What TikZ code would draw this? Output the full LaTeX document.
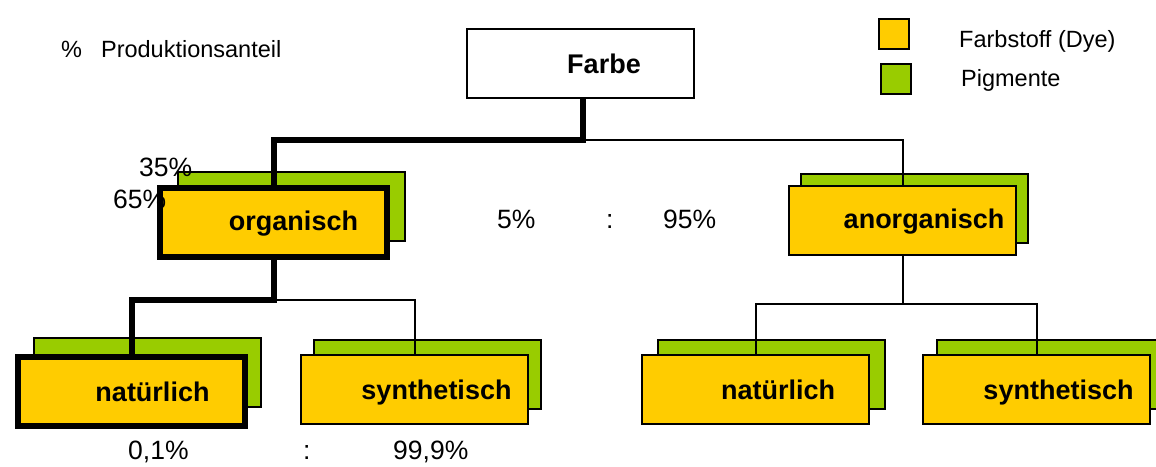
\documentclass[tikz,border=0pt]{standalone}
\usepackage{fontspec}
\setmainfont{Liberation Sans}
\usetikzlibrary{calc}

\definecolor{dyeyellow}{HTML}{FFCC00}
\definecolor{pigmentgreen}{HTML}{99CC00}

\tikzset{
  boxbase/.style={rectangle, anchor=north west, inner sep=0pt,
    minimum width=227pt, minimum height=69pt, draw=black, line width=2pt},
  pigmentbox/.style={boxbase, fill=pigmentgreen, line width=1.6pt},
  dyebox/.style={boxbase, fill=dyeyellow},
  pathbox/.style={dyebox, line width=6pt},
  rootbox/.style={boxbase, fill=white},
  boxlabel/.style={anchor=base, inner sep=0pt,
    font=\bfseries\fontsize{27}{27}\selectfont},
  plaintext/.style={anchor=base west, inner sep=0pt,
    font=\fontsize{23.5}{23.5}\selectfont},
  pct/.style={anchor=base west, inner sep=0pt,
    font=\fontsize{26.5}{26.5}\selectfont},
  thickline/.style={line width=6pt, line join=miter},
  thinline/.style={line width=2pt},
  legendsq/.style={rectangle, anchor=north west, inner sep=0pt,
    minimum width=30pt, minimum height=30pt, draw=black, line width=2pt}
}

\begin{document}
\begin{tikzpicture}[x=1pt, y=-1pt]
  \useasboundingbox (0,0) rectangle (1156,466);

  % root
  \node[rootbox] (farbe) at (466,28) {};

  % pigment layers (behind)
  \node[pigmentbox] (orgG)   at (177,171) {};
  \node[pigmentbox] (anorgG) at (800,173) {};
  \node[pigmentbox] (natLG)  at (33,337)  {};
  \node[pigmentbox] (synLG)  at (313,339) {};
  \node[pigmentbox] (natRG)  at (657,339) {};
  \node[pigmentbox] (synRG)  at (936,339) {};

  % dye layers (front)
  \node[pathbox] (orgY)   at (157,185) {};
  \node[dyebox]  (anorgY) at (788,185) {};
  \node[pathbox] (natLY)  at (15,354)  {};
  \node[dyebox]  (synLY)  at (300,354) {};
  \node[dyebox]  (natRY)  at (641,354) {};
  \node[dyebox]  (synRY)  at (922,354) {};

  % branch points
  \coordinate (s1) at (583,140);
  \coordinate (s2) at (270,300);
  \coordinate (s3) at (903,304);

  % connectors: highlighted path
  \draw[thickline] (farbe.south -| s1) -- (s1) -| (orgY.north);
  \draw[thickline] (orgY.south) -- (orgY.south |- s2) -| (natLY.north);
  % connectors: other branches
  \draw[thinline] (s1) -| (anorgY.north);
  \draw[thinline] (orgY.south |- s2) -| (synLY.north);
  \draw[thinline] (anorgY.south) -- (anorgY.south |- s3);
  \draw[thinline] (natRY.north) |- (s3) -| (synRY.north);

  % box labels
  \node[boxlabel] (tFarbe) at (604,73)  {Farbe};
  \node[boxlabel] (tOrg)   at (293.5,230) {organisch};
  \node[boxlabel] (tAnorg) at (924,228) {anorganisch};
  \node[boxlabel] (tNatL)  at (152.5,401) {natürlich};
  \node[boxlabel] (tSynL)  at (436.5,399) {synthetisch};
  \node[boxlabel] (tNatR)  at (778,399) {natürlich};
  \node[boxlabel] (tSynR)  at (1058.5,399) {synthetisch};

  % legend
  \node[legendsq, fill=dyeyellow]    (legY) at (878,18) {};
  \node[legendsq, fill=pigmentgreen] (legG) at (880,63) {};
  \node[plaintext] (legYt) at (959,47) {Farbstoff (Dye)};
  \node[plaintext] (legGt) at (961,86) {Pigmente};

  % heading
  \node[plaintext] (head) at (61,57) {\%\hspace{19pt}Produktionsanteil};

  % shares
  \node[pct] (p35) at (139,176) {35\%};
  \node[pct] (p65) at (113,208) {65\%};
  \node[pct] (p5)  at (497,228) {5\%};
  \node[pct] (c1)  at (606,228) {:};
  \node[pct] (p95) at (663,228) {95\%};
  \node[pct] (p01) at (128,459) {0,1\%};
  \node[pct] (c2)  at (303,459) {:};
  \node[pct] (p999) at (393,459) {99,9\%};
\end{tikzpicture}
\end{document}
